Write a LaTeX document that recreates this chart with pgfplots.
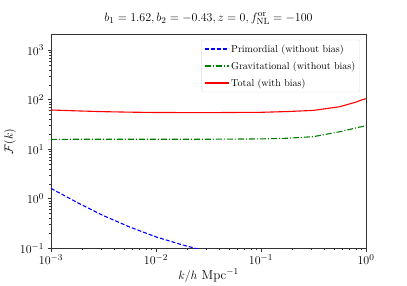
\documentclass[border=0pt]{standalone}
\usepackage{pgfplots}
\pgfplotsset{compat=1.18}
\begin{document}
\begin{tikzpicture}
\begin{axis}[
  scale only axis, width=315pt, height=214pt,
  xmode=log, ymode=log,
  xmin=1e-3, xmax=1, ymin=0.1, ymax=2100,
  axis line style={black!80, line width=0.8pt},
  tick style={black!80, line width=0.6pt},
  tick align=outside, xtick pos=left, ytick pos=left,
  major tick length=3.5pt, minor tick length=2pt,
  xtick={0.001,0.01,0.1,1}, ytick={0.1,1,10,100,1000},
  ticklabel style={font=\fontsize{12.5}{15}\selectfont},
  xticklabel style={yshift=1pt},
  xlabel={$k/h$ Mpc$^{-1}$}, ylabel={$\mathcal{F}(k)$},
  label style={font=\fontsize{13}{15}\selectfont},
  xlabel style={at={(rel axis cs:0.5,0)}, anchor=base, yshift=-31pt},
  ylabel style={at={(rel axis cs:0,0.5)}, anchor=center, rotate=0, yshift=41pt},
  title={$b_1=1.62, b_2=-0.43, z=0, f_{\rm NL}^{\rm or}=-100$},
  title style={font=\fontsize{13}{15}\selectfont, at={(0.5,1)}, anchor=base, yshift=7pt},
  legend style={at={(rel axis cs:1,1)}, anchor=north east, xshift=-6pt, yshift=-5.5pt,
    draw=black!12, rounded corners=2pt, fill=white, font=\normalsize, inner sep=2.5pt,
    row sep=4pt, cells={anchor=west}},
  legend cell align=left,
  legend image code/.code={\draw[#1] (0pt,0pt) -- (24pt,0pt);},
]
\addplot[blue, line width=1.1pt, dash pattern=on 4pt off 2pt] coordinates {
(0.001,1.622) (0.001778,0.841) (0.003162,0.457) (0.005623,0.269) (0.01,0.170) (0.01778,0.1175) (0.03162,0.0851)};
\addlegendentry{Primordial (without bias)}
\addplot[green!50!black, line width=1.1pt, dash pattern=on 6pt off 2pt on 1pt off 2pt] coordinates {
(0.001,15.9) (0.03162,15.96) (0.1,16.2) (0.1778,16.7) (0.3162,18.0) (0.5623,22.6) (0.7943,26.9) (1,30.0)};
\addlegendentry{Gravitational (without bias)}
\addplot[red, line width=1.1pt] coordinates {
(0.001,62.2) (0.001778,59.6) (0.003162,57.5) (0.005623,56.2) (0.01,55.3) (0.03162,55.0) (0.1,55.8) (0.1778,57.8) (0.3162,61.0) (0.5623,72.4) (0.7943,89.1) (0.8913,97.7) (1,105.2)};
\addlegendentry{Total (with bias)}
\end{axis}
\pgfresetboundingbox
\path ([xshift=-51pt,yshift=-36.7pt]current axis.south west) rectangle ([xshift=41pt,yshift=34.3pt]current axis.north east);
\end{tikzpicture}
\end{document}
